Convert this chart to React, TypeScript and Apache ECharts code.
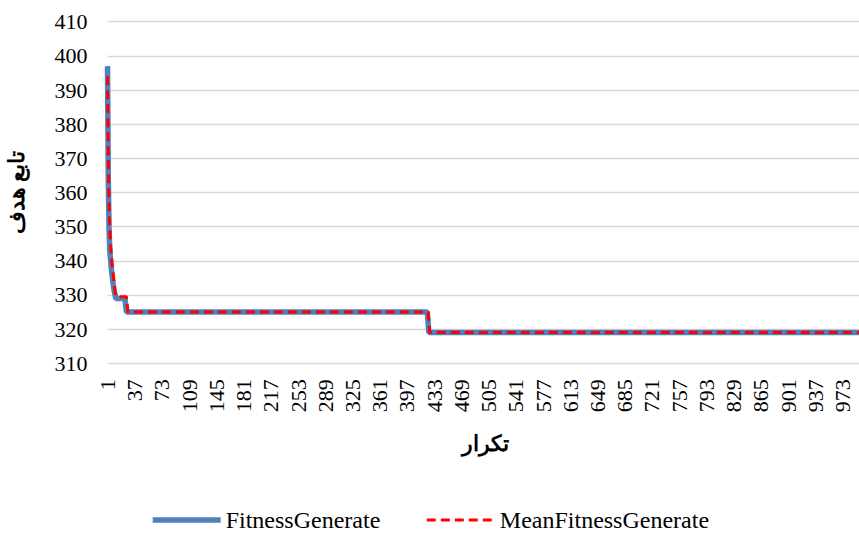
import React, { useEffect, useRef } from "react";
import * as echarts from "echarts";

const TOTAL_ITERATIONS = 1000;
const categories: string[] = Array.from({ length: TOTAL_ITERATIONS }, (_, i) => String(i + 1));

// Change points: iteration numbers and values
const fitnessIter = [1, 2, 3, 4, 6, 8, 10, 12, 24, 26, 424, 426, 1000];
const fitnessVals = [397, 365, 350, 343, 338, 334, 331, 329, 329, 325, 325, 319, 319];

const meanIter = [1, 2, 3, 4, 5, 7, 9, 11, 13, 26, 28, 425, 427, 1000];
const meanVals = [394, 372, 358, 350, 345, 339, 335, 331, 329.5, 329.5, 325, 325, 319, 319];

const seriesNames = ["FitnessGenerate", "MeanFitnessGenerate"];
const yAxisTitle = "تابع هدف";
const xAxisTitle = "تکرار";

const FONT = "Liberation Serif";

export default function App() {
  const ref = useRef<HTMLDivElement>(null);
  useEffect(() => {
    if (!ref.current) return;
    const chart = echarts.init(ref.current, undefined, { renderer: "svg" });
    const toPairs = (it: number[], v: number[]) => it.map((x, i) => [x - 1, v[i]]);
    chart.setOption({
      animation: false,
      backgroundColor: "#ffffff",
      textStyle: { fontFamily: FONT },
      grid: {
        left: 107.5,
        top: 21.7,
        width: 755.4,
        height: 341.6,
        containLabel: false,
        outerBoundsMode: "none",
      },
      legend: {
        top: 503,
        left: "center",
        itemWidth: 68,
        itemHeight: 14,
        itemGap: 45,
        itemStyle: { opacity: 0 },
        textStyle: { fontFamily: FONT, fontSize: 24, color: "#000" },
        data: [
          { name: seriesNames[0], lineStyle: { width: 5.5, color: "#4F81BD" } },
          { name: seriesNames[1], lineStyle: { width: 3, color: "#FF0000", type: [9, 5] } },
        ],
      },
      xAxis: {
        type: "category",
        data: categories,
        boundaryGap: false,
        axisLine: { show: false },
        axisTick: { show: false },
        axisLabel: {
          interval: 35,
          rotate: 90,
          margin: 16,
          fontSize: 22,
          color: "#000",
          fontFamily: FONT,
        },
        name: xAxisTitle,
        nameLocation: "middle",
        nameGap: 69,
        nameTextStyle: { fontSize: 22, fontWeight: "bold", color: "#000", fontFamily: FONT },
      },
      yAxis: {
        type: "value",
        min: 310,
        max: 410,
        interval: 10,
        axisLine: { show: false },
        axisTick: { show: false },
        splitLine: { lineStyle: { color: "#d9d9d9", width: 1.3 } },
        axisLabel: { fontSize: 22, color: "#000", margin: 20, fontFamily: FONT },
        name: yAxisTitle,
        nameLocation: "middle",
        nameRotate: 90,
        nameGap: 80,
        nameTextStyle: {
          fontSize: 22,
          fontWeight: "bold",
          color: "#000",
          fontFamily: FONT,
        },
      },
      series: [
        {
          name: seriesNames[0],
          type: "line",
          data: toPairs(fitnessIter, fitnessVals),
          symbol: "none",
          color: "#4F81BD",
          lineStyle: { color: "#4F81BD", width: 5.5 },
        },
        {
          name: seriesNames[1],
          type: "line",
          data: toPairs(meanIter, meanVals),
          symbol: "none",
          color: "#FF0000",
          lineStyle: { color: "#FF0000", width: 3, type: [9, 5] },
        },
      ],
    });
    return () => chart.dispose();
  }, []);
  return (
    <div
      ref={ref}
      style={{ position: "fixed", left: 0, top: 0, width: 859, height: 533, background: "#fff" }}
    />
  );
}
